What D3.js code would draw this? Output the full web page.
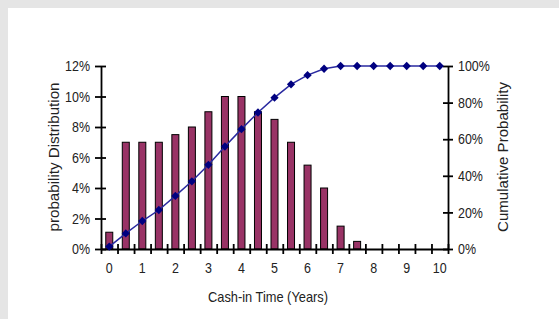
<!DOCTYPE html>
<html>
<head>
<meta charset="utf-8">
<script src="https://cdn.jsdelivr.net/npm/d3@7"></script>
<style>
  body { margin: 0; }
  text { font-family: "Liberation Sans", Arial, sans-serif; fill: #222; }
</style>
</head>
<body>
<div id="chart"></div>
<script>
const width = 559
const height = 319

// cash-in time, years
const years = [0, 0.5, 1, 1.5, 2, 2.5, 3, 3.5, 4, 4.5, 5, 5.5, 6, 6.5, 7, 7.5, 8, 8.5, 9, 9.5, 10]
// probability distribution (bars)
const probability = [0.011, 0.07, 0.07, 0.07, 0.075, 0.08, 0.09, 0.10, 0.10, 0.09, 0.085, 0.07, 0.055, 0.04, 0.015, 0.005, 0, 0, 0, 0, 0]
// cumulative probability (line)
const cumulative = [0.013, 0.085, 0.153, 0.213, 0.29, 0.37, 0.46, 0.56, 0.655, 0.746, 0.827, 0.90, 0.95, 0.985, 1, 1, 1, 1, 1, 1, 1]

const leftTicks = [0, 0.02, 0.04, 0.06, 0.08, 0.10, 0.12]
const rightTicks = [0, 0.2, 0.4, 0.6, 0.8, 1]

const squeeze = 0.86  // the original font is a narrow one

const svg = d3.select("#chart").append("svg")
    .attr("width", width)
    .attr("height", height)
    .style("display", "block")

svg.append("rect").attr("width", width).attr("height", height).attr("fill", "#e5e5e5")
svg.append("rect").attr("x", 8).attr("y", 8).attr("width", width - 8).attr("height", height - 8).attr("fill", "white")

const plot = { left: 101, right: 448, top: 66, bottom: 249 }

const x = d3.scaleBand()
    .domain(years)
    .range([plot.left, plot.right])
    .padding(0)

const yLeft = d3.scaleLinear().domain([0, 0.12]).range([plot.bottom, plot.top])
const yRight = d3.scaleLinear().domain([0, 1]).range([plot.bottom, plot.top])

// bars
svg.append("g").selectAll("rect")
    .data(years)
    .join("rect")
    .attr("x", (d) => x(d) + x.bandwidth() / 2 - 3.5)
    .attr("y", (d, i) => yLeft(probability[i]))
    .attr("width", 7)
    .attr("height", (d, i) => plot.bottom - yLeft(probability[i]))
    .attr("fill", "#993366")
    .attr("stroke", "black")
    .attr("stroke-width", 1)

// axes
const fmt = d3.format(".0%")

const axLeft = svg.append("g")
    .attr("transform", `translate(${plot.left},0)`)
    .call(d3.axisLeft(yLeft).tickValues(leftTicks).tickFormat(fmt).tickSizeOuter(0))
axLeft.selectAll(".tick line").attr("x1", -6).attr("x2", 5)
axLeft.selectAll(".tick text").attr("x", -11 / squeeze).attr("transform", `scale(${squeeze},1)`)

const axRight = svg.append("g")
    .attr("transform", `translate(${plot.right},0)`)
    .call(d3.axisRight(yRight).tickValues(rightTicks).tickFormat(fmt).tickSizeOuter(0))
axRight.selectAll(".tick line").attr("x1", -5).attr("x2", 5)
axRight.selectAll(".tick text").attr("x", 10 / squeeze).attr("transform", `scale(${squeeze},1)`)

// tick marks at category boundaries
const xEdges = d3.scaleLinear().domain([0, years.length]).range([plot.left, plot.right])
const axBottom = svg.append("g")
    .attr("transform", `translate(0,${plot.bottom})`)
    .call(d3.axisBottom(xEdges).tickValues(d3.range(years.length + 1)).tickFormat("").tickSizeOuter(0))
axBottom.selectAll(".tick line").attr("y1", -5).attr("y2", 5)

// labels only on whole years
const axLabels = svg.append("g")
    .attr("transform", `translate(0,${plot.bottom})`)
    .call(d3.axisBottom(x).tickValues(years.filter((d) => d % 1 === 0)).tickSize(0))
axLabels.select(".domain").remove()
axLabels.selectAll(".tick text").attr("y", 14).attr("transform", `scale(${squeeze},1)`)

svg.selectAll(".domain, .tick line").attr("stroke", "black").attr("stroke-width", 1.8)
svg.selectAll(".tick text").style("font-size", "14.5px").attr("fill", "#222")

// cumulative line
const line = d3.line()
    .x((d) => x(d) + x.bandwidth() / 2)
    .y((d, i) => yRight(cumulative[i]))

svg.append("path")
    .datum(years)
    .attr("d", line)
    .attr("fill", "none")
    .attr("stroke", "#2a2aa0")
    .attr("stroke-width", 1.5)

svg.append("g").selectAll("path")
    .data(years)
    .join("path")
    .attr("d", d3.symbol(d3.symbolDiamond2, 44))
    .attr("transform", (d, i) => `translate(${x(d) + x.bandwidth() / 2},${yRight(cumulative[i])})`)
    .attr("fill", "#000080")

// titles
svg.append("text")
    .attr("transform", "translate(59,157) rotate(-90)")
    .attr("text-anchor", "middle")
    .attr("textLength", 149)
    .attr("lengthAdjust", "spacingAndGlyphs")
    .style("font-size", "15px")
    .text("probability Distribution")

svg.append("text")
    .attr("transform", "translate(508,157) rotate(-90)")
    .attr("text-anchor", "middle")
    .attr("textLength", 150)
    .attr("lengthAdjust", "spacingAndGlyphs")
    .style("font-size", "15px")
    .text("Cumulative Probability")

svg.append("text")
    .attr("x", 268)
    .attr("y", 302)
    .attr("text-anchor", "middle")
    .attr("textLength", 120)
    .attr("lengthAdjust", "spacingAndGlyphs")
    .style("font-size", "14.5px")
    .text("Cash-in Time (Years)")
</script>
</body>
</html>
